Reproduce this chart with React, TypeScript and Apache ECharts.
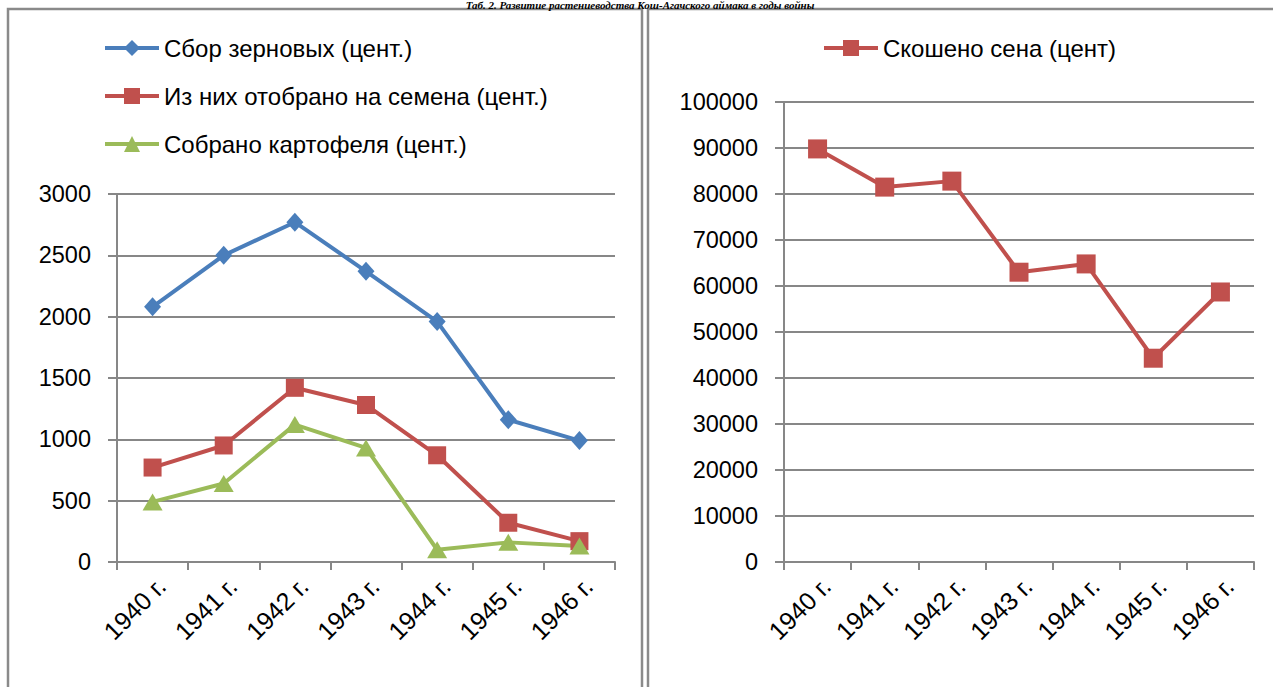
import React, { useEffect, useRef } from 'react';
import * as echarts from 'echarts';

const years = ['1940 г.', '1941 г.', '1942 г.', '1943 г.', '1944 г.', '1945 г.', '1946 г.'];
const grain = [2080, 2500, 2770, 2370, 1960, 1160, 990];
const seeds = [770, 950, 1420, 1280, 870, 320, 170];
const potato = [490, 640, 1120, 930, 100, 160, 130];
const hay = [89800, 81500, 82800, 63000, 64800, 44300, 58700];

const nameGrain = 'Сбор зерновых (цент.)';
const nameSeeds = 'Из них отобрано на семена (цент.)';
const namePotato = 'Собрано картофеля (цент.)';
const nameHay = 'Скошено сена (цент)';
const titleText = 'Таб. 2. Развитие растениеводства Кош-Агачского аймака в годы войны';

const FONT = '"Liberation Sans", Arial, sans-serif';
const GRAY = '#878787';
const BLUE = '#4A7EBB';
const RED = '#C0504D';
const GREEN = '#9BBB59';

export default function App() {
  const ref = useRef<HTMLDivElement>(null);
  useEffect(() => {
    const chart = echarts.init(ref.current!, null, { renderer: 'svg' });
    const xAxisCommon = (gi: number) => ({
      type: 'category',
      gridIndex: gi,
      data: years,
      boundaryGap: true,
      axisLine: { show: true, lineStyle: { color: GRAY, width: 2 } },
      axisTick: { show: true, length: 8, alignWithLabel: false, lineStyle: { color: GRAY, width: 2 } },
      axisLabel: {
        rotate: 45,
        interval: 0,
        fontSize: 25,
        color: '#000',
        margin: 11,
        align: 'right',
        verticalAlign: 'top',
        fontFamily: FONT,
      },
      splitLine: { show: false },
    });
    const yAxisCommon = (gi: number, max: number, interval: number) => ({
      type: 'value',
      gridIndex: gi,
      min: 0,
      max,
      interval,
      axisLine: { show: true, lineStyle: { color: GRAY, width: 2 } },
      axisTick: { show: true, length: 9, lineStyle: { color: GRAY, width: 2 } },
      axisLabel: {
        fontSize: 23.5,
        color: '#000',
        margin: 26,
        fontFamily: FONT,
        formatter: (v: number) => String(v),
      },
      splitLine: { show: true, lineStyle: { color: GRAY, width: 2 } },
    });
    const legendText = { fontSize: 24, color: '#000', fontFamily: FONT };
    chart.setOption({
      animation: false,
      backgroundColor: '#fff',
      textStyle: { fontFamily: FONT },
      graphic: [
        {
          type: 'rect',
          z: -10,
          shape: { x: 8, y: 9, width: 634, height: 720 },
          style: { fill: 'none', stroke: '#8a8a8a', lineWidth: 2.5 },
        },
        {
          type: 'rect',
          z: -10,
          shape: { x: 648, y: 9, width: 720, height: 720 },
          style: { fill: 'none', stroke: '#8a8a8a', lineWidth: 2.5 },
        },
        {
          type: 'text',
          x: 640,
          y: -1,
          style: {
            text: titleText,
            fill: '#000',
            font: 'italic bold 11px "Liberation Serif", "Times New Roman", serif',
            align: 'center',
            verticalAlign: 'top',
          },
        },
      ],
      legend: [
        {
          data: [nameGrain, nameSeeds, namePotato],
          orient: 'vertical',
          left: 103,
          top: 36,
          padding: 0,
          itemWidth: 54,
          itemHeight: 20,
          itemGap: 24,
          lineStyle: { width: 4 },
          textStyle: legendText,
        },
        {
          data: [nameHay],
          orient: 'horizontal',
          left: 822,
          top: 36,
          padding: 0,
          itemWidth: 54,
          itemHeight: 20,
          lineStyle: { width: 4 },
          textStyle: legendText,
        },
      ],
      grid: [
        { left: 117, top: 194, width: 498, height: 368 },
        { left: 784, top: 102, width: 470, height: 460 },
      ],
      xAxis: [xAxisCommon(0), xAxisCommon(1)],
      yAxis: [yAxisCommon(0, 3000, 500), yAxisCommon(1, 100000, 10000)],
      series: [
        {
          name: nameGrain,
          type: 'line',
          xAxisIndex: 0,
          yAxisIndex: 0,
          data: grain,
          symbol: 'diamond',
          symbolSize: [17, 19],
          color: BLUE,
          lineStyle: { width: 4, color: BLUE },
          itemStyle: { color: BLUE },
        },
        {
          name: nameSeeds,
          type: 'line',
          xAxisIndex: 0,
          yAxisIndex: 0,
          data: seeds,
          symbol: 'rect',
          symbolSize: 18,
          color: RED,
          lineStyle: { width: 4, color: RED },
          itemStyle: { color: RED },
        },
        {
          name: namePotato,
          type: 'line',
          xAxisIndex: 0,
          yAxisIndex: 0,
          data: potato,
          symbol: 'triangle',
          symbolSize: [20, 17],
          color: GREEN,
          lineStyle: { width: 4, color: GREEN },
          itemStyle: { color: GREEN },
        },
        {
          name: nameHay,
          type: 'line',
          xAxisIndex: 1,
          yAxisIndex: 1,
          data: hay,
          symbol: 'rect',
          symbolSize: 19,
          color: RED,
          lineStyle: { width: 4, color: RED },
          itemStyle: { color: RED },
        },
      ],
    });
    return () => chart.dispose();
  }, []);
  return (
    <div
      ref={ref}
      style={{ position: 'fixed', left: 0, top: 0, width: 1273, height: 687, background: '#fff' }}
    />
  );
}
